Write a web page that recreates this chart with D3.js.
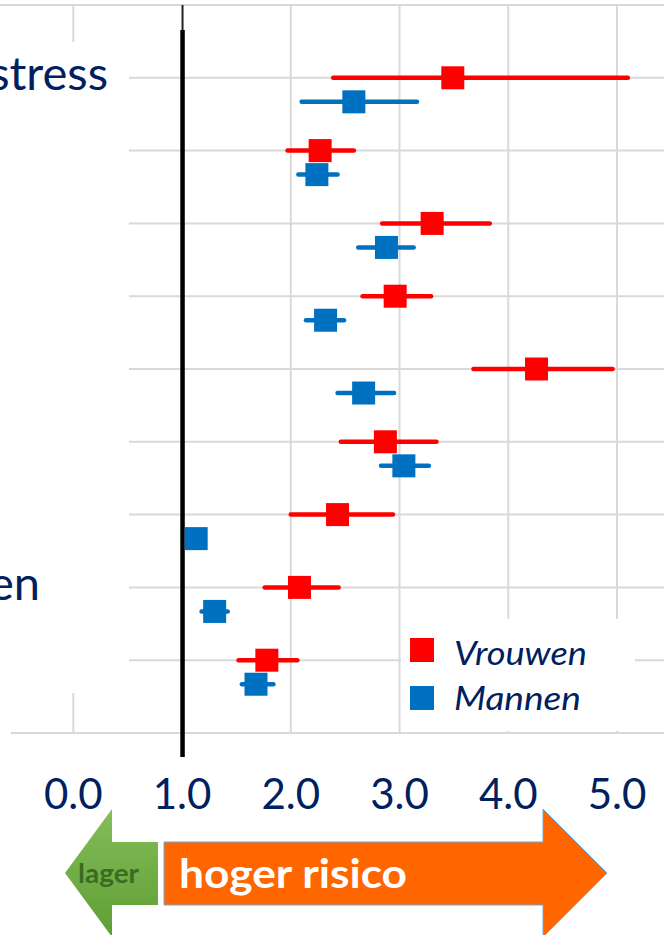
<!DOCTYPE html>
<html>
<head>
<meta charset="utf-8">
<script src="https://cdn.jsdelivr.net/npm/d3@7"></script>
<style>
  html, body { margin: 0; padding: 0; background: #fff; }
  svg { display: block; font-family: Lato, "Open Sans", sans-serif; }
</style>
</head>
<body>
<svg id="chart" width="664" height="935"></svg>
<script>
// ---- data ----
const rowLabels   = ["stress", "", "", "", "", "", "", "en", ""];
const vrouwenOR   = [3.49, 2.27, 3.30, 2.96, 4.26, 2.87, 2.43, 2.08, 1.78];
const vrouwenLo   = [2.39, 1.97, 2.84, 2.66, 3.68, 2.46, 2.00, 1.76, 1.52];
const vrouwenHi   = [5.10, 2.58, 3.83, 3.29, 4.96, 3.34, 2.94, 2.44, 2.06];
const mannenOR    = [2.58, 2.24, 2.88, 2.32, 2.67, 3.04, 1.13, 1.30, 1.68];
const mannenLo    = [2.10, 2.07, 2.62, 2.14, 2.43, 2.83, 1.07, 1.18, 1.55];
const mannenHi    = [3.16, 2.43, 3.13, 2.49, 2.95, 3.27, 1.19, 1.42, 1.84];
const xTicks      = [0, 1, 2, 3, 4, 5];
const seriesNames = ["Vrouwen", "Mannen"];
const seriesColors = ["#ff0000", "#0070c0"];
const referenceValue = 1;

// ---- layout ----
const svg = d3.select("#chart");
const x = d3.scaleLinear().domain([0, 5]).range([73.3, 617]);
const y = d3.scaleLinear().domain([0, 10]).range([733, 5]);
const navy = "#002060";
const grid = "#d9d9d9";
const nRows = rowLabels.length;
const rowPos = i => nRows - i;          // red marker row value (9 .. 1)
const blueOffset = 0.33;
const labelRight = i => (i === 0 ? 108 : 40); // the visible label fragments end at different x

// horizontal gridlines
const hLines = d3.range(1, 11);
svg.append("g").selectAll("line").data(hLines).join("line")
  .attr("x1", v => v === 10 ? 0 : 129).attr("x2", 664)
  .attr("y1", v => y(v)).attr("y2", v => y(v))
  .attr("stroke", grid).attr("stroke-width", 2);

// vertical gridlines
svg.append("g").selectAll("line").data(xTicks.filter(t => t !== referenceValue)).join("line")
  .attr("x1", t => x(t)).attr("x2", t => x(t))
  .attr("y1", y(10)).attr("y2", y(0))
  .attr("stroke", grid).attr("stroke-width", 2);

// label area (covers gridlines)
svg.append("rect").attr("x", 0).attr("y", 42).attr("width", 128).attr("height", 651).attr("fill", "#fff");

// x axis line
svg.append("line").attr("x1", 11).attr("x2", 664).attr("y1", y(0)).attr("y2", y(0))
  .attr("stroke", grid).attr("stroke-width", 2);

// reference line at 1.0
svg.append("line").attr("x1", x(referenceValue) + 0.5).attr("x2", x(referenceValue) + 0.5)
  .attr("y1", y(10)).attr("y2", 30).attr("stroke", "#222").attr("stroke-width", 2);
svg.append("line").attr("x1", x(referenceValue) + 0.5).attr("x2", x(referenceValue) + 0.5)
  .attr("y1", 30).attr("y2", 757).attr("stroke", "#000").attr("stroke-width", 4.5);

// row labels
svg.append("g").selectAll("text").data(rowLabels).join("text")
  .attr("x", (d, i) => labelRight(i)).attr("y", (d, i) => y(rowPos(i)))
  .attr("dy", "0.27em")
  .attr("text-anchor", "end")
  .attr("font-size", 47).attr("fill", navy)
  .text(d => d);

// series
const series = [
  { or: vrouwenOR, lo: vrouwenLo, hi: vrouwenHi, off: 0 },
  { or: mannenOR,  lo: mannenLo,  hi: mannenHi,  off: blueOffset }
];
const sq = 23;
series.forEach((s, k) => {
  const g = svg.append("g");
  const rows = s.or.map((v, i) => ({ v, lo: s.lo[i], hi: s.hi[i], yv: rowPos(i) - s.off }));
  g.selectAll("line").data(rows).join("line")
    .attr("x1", d => x(d.lo)).attr("x2", d => x(d.hi))
    .attr("y1", d => y(d.yv)).attr("y2", d => y(d.yv))
    .attr("stroke", seriesColors[k]).attr("stroke-width", 4.5).attr("stroke-linecap", "round");
  g.selectAll("rect").data(rows).join("rect")
    .attr("x", d => x(d.v) - sq / 2).attr("y", d => y(d.yv) - sq / 2)
    .attr("width", sq).attr("height", sq).attr("fill", seriesColors[k]);
});

// tick labels
svg.append("g").selectAll("text").data(xTicks).join("text")
  .attr("x", t => x(t)).attr("y", 809)
  .attr("text-anchor", "middle").attr("font-size", 42).attr("fill", navy)
  .text(t => d3.format(".1f")(t));

// legend
const leg = svg.append("g");
leg.append("rect").attr("x", 401).attr("y", 619).attr("width", 234).attr("height", 112).attr("fill", "#fff");
const legendWidths = [133, 127];
seriesNames.forEach((n, k) => {
  const cy = 650 + k * 48;
  leg.append("rect").attr("x", 410).attr("y", cy - 12).attr("width", 24).attr("height", 24).attr("fill", seriesColors[k]);
  leg.append("text").attr("x", 454).attr("y", cy + 15 - k * 3)
    .attr("font-size", 33).attr("font-style", "italic").attr("fill", navy)
    .attr("textLength", legendWidths[k]).attr("lengthAdjust", "spacingAndGlyphs").text(n);
});

// arrows
const defs = svg.append("defs");
const gr = defs.append("linearGradient").attr("id", "gg").attr("x1", 0).attr("y1", 0).attr("x2", 0).attr("y2", 1);
gr.append("stop").attr("offset", "0%").attr("stop-color", "#85bd5b");
gr.append("stop").attr("offset", "100%").attr("stop-color", "#5e9e33");

const greenPts = [[65,873],[112,809],[112,842],[158,842],[158,905],[112,905],[112,937]];
svg.append("path").attr("d", d3.line()(greenPts) + "Z").attr("fill", "url(#gg)");
svg.append("text").attr("x", 78).attr("y", 883).attr("font-size", 27).attr("font-weight", "bold")
  .attr("fill", "#3a6b20").attr("textLength", 61).attr("lengthAdjust", "spacingAndGlyphs").text("lager");

const orangePts = [[164,842],[543,842],[543,809],[607,873],[543,937],[543,905],[164,905]];
svg.append("path").attr("d", d3.line()(orangePts) + "Z").attr("fill", "#ff6600")
  .attr("stroke", "#6fa8dc").attr("stroke-width", 1);
svg.append("text").attr("x", 179).attr("y", 888).attr("font-size", 41).attr("font-weight", "bold")
  .attr("fill", "#fff").attr("textLength", 228).attr("lengthAdjust", "spacingAndGlyphs").text("hoger risico");
</script>
</body>
</html>
